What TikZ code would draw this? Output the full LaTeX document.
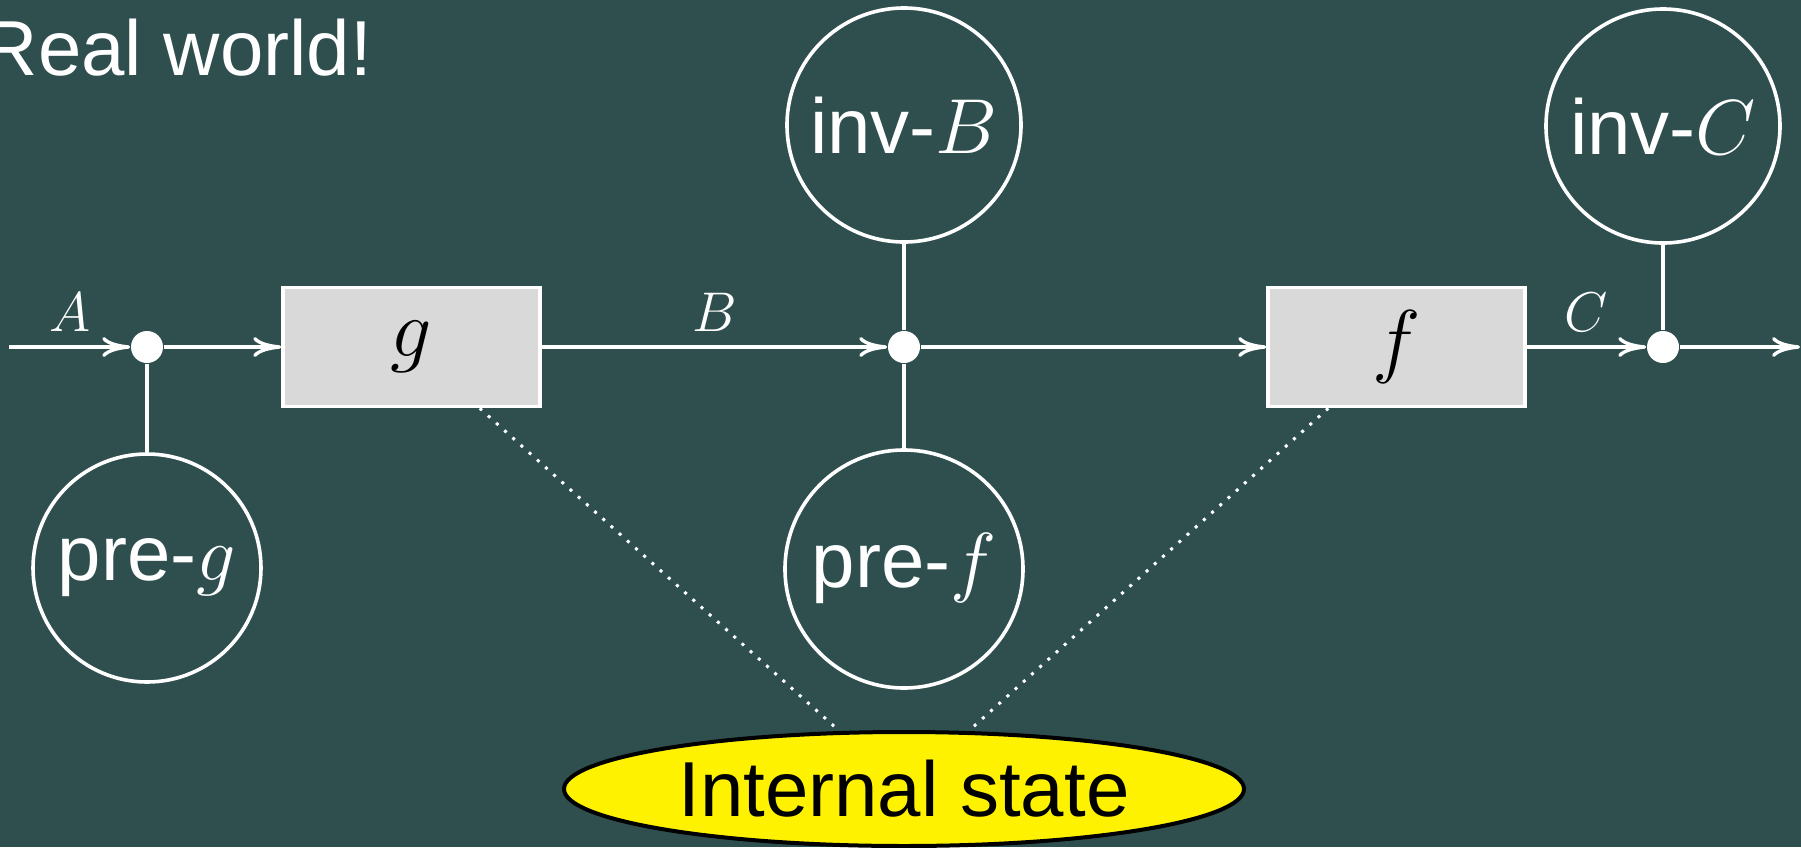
\RequirePackage{fix-cm}
\documentclass[tikz,border=0pt]{standalone}
\usepackage{fontspec}
\setmainfont{Liberation Sans}
\usepackage{xcolor}
\definecolor{slatebg}{HTML}{2F4F4F}
\definecolor{boxgray}{HTML}{D9D9D9}
\usetikzlibrary{arrows.meta,shapes.geometric}
\newcommand{\nodefont}{\fontsize{19.5}{23}\selectfont}
\newcommand{\boxfont}{\fontsize{20.5}{24}\selectfont}
\newcommand{\labfont}{\fontsize{14}{17}\selectfont}
\tikzset{
  fbox/.style ={rectangle, line width=0.9pt, draw=white, fill=boxgray, inner sep=0pt,
                minimum width=64.25pt, minimum height=29.75pt, font=\boxfont},
  cond/.style ={circle, line width=0.9pt, draw=white, text=white, inner sep=0pt,
                minimum size=58.5pt, font=\nodefont},
  junc/.style ={circle, fill=white, minimum size=8pt, inner sep=0pt},
  state/.style={ellipse, line width=1pt, draw=black, fill=yellow, inner sep=0pt,
                minimum width=170pt, minimum height=28.5pt, font=\nodefont},
  flow/.style ={line width=0.85pt, white, -{To[length=7pt,width=5pt]}},
  wire/.style ={line width=0.85pt, white},
  link/.style ={line width=0.75pt, white, dotted},
  wl/.style   ={midway, above, inner sep=3.5pt, text=white, font=\labfont},
}

\begin{document}
\begin{tikzpicture}[x=0.25pt, y=-0.25pt]
  \fill[slatebg] (0,0) rectangle (1801,847);
  \useasboundingbox (0,0) rectangle (1801,847);

  \node[anchor=base west, inner sep=0pt, text=white, font=\nodefont] (rw) at (-19,75) {Real world!};

  % main chain
  \coordinate (in) at (9,347);
  \coordinate (out) at (1800,347);
  \node[junc] (ja) at (147,347) {};
  \node[fbox] (g)  at (411.5,347) {$g$};
  \node[junc] (jb) at (904,347) {};
  \node[fbox] (f)  at (1396.5,347) {$f$};
  \node[junc] (jc) at (1663,347) {};

  % conditions
  \node[cond, minimum size=57pt]   (preg) at (147,568) {pre-$g$};
  \node[cond]                      (invb) at (904,125) {inv-$B$};
  \node[cond, minimum size=59.5pt] (pref) at (904,569) {pre-$f$};
  \node[cond]                      (invc) at (1663,126) {inv-$C$};

  \node[state] (st) at (904,789) {Internal state};

  \draw[flow] (in) -- node[wl] {$A$} (ja);
  \draw[flow] (ja) -- (g);
  \draw[flow] (g)  -- node[wl] {$B$} (jb);
  \draw[flow] (jb) -- (f);
  \draw[flow] (f)  -- node[wl] {$C$} (jc);
  \draw[flow] (jc) -- (out);

  \draw[wire] (ja) -- (preg);
  \draw[wire] (invb) -- (jb);
  \draw[wire] (jb) -- (pref);
  \draw[wire] (invc) -- (jc);

  \draw[link] (g) -- (st);
  \draw[link] (f) -- (st);
\end{tikzpicture}
\end{document}
